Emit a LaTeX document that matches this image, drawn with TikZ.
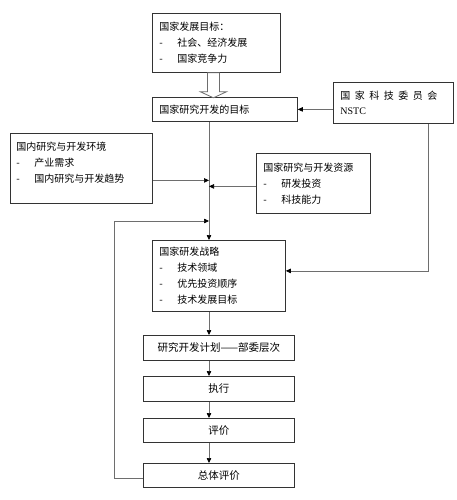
\documentclass[tikz,border=0pt]{standalone}
\usepackage{fontspec}
\setmainfont{Noto Sans CJK SC}
\newfontfamily\romanfont{Liberation Serif}
\usepackage{xcolor}
\usepackage{tikz}
\usetikzlibrary{arrows.meta,calc,positioning}
\definecolor{edgegray}{HTML}{6E6E6E}
\definecolor{boxline}{HTML}{333333}
\newcommand{\dashitem}[1]{\makebox[18pt][l]{-}#1}

\begin{document}
\begin{tikzpicture}[x=1pt,y=-1pt,
  box/.style={draw=boxline,line width=0.8pt,anchor=north west,inner xsep=7pt,inner ysep=0pt,align=left,font=\fontsize{10}{16}\selectfont},
  stage/.style={draw=boxline,line width=0.8pt,anchor=north west,minimum width=151pt,inner sep=0pt,font=\fontsize{10.5}{12}\selectfont},
  flow/.style={draw=edgegray,line width=0.7pt,-{Triangle[length=5pt,width=4.5pt,color=black]}}]
  \useasboundingbox[fill=white] (0,0) rectangle (457,500);
  % boxes
  \node[box,minimum width=128pt,minimum height=59pt,text width=114pt] (natgoal) at (152,13)
    {国家发展目标：\\\dashitem{社会、经济发展}\\\dashitem{国家竞争力}};
  \node[box,minimum width=145pt,minimum height=24pt,text width=131pt] (goal) at (152,97) {国家研究开发的目标};
  \node[box,minimum width=120pt,minimum height=41pt,text width=106pt,font=\fontsize{10}{15}\selectfont] (nstc) at (333,82)
    {国\hspace{4.5pt}家\hspace{4.5pt}科\hspace{4.5pt}技\hspace{4.5pt}委\hspace{4.5pt}员\hspace{4.5pt}会\\{\romanfont NSTC}};
  \node[box,minimum width=142pt,minimum height=70pt,text width=130pt,inner xsep=6pt] (env) at (10,133)
    {国内研究与开发环境\\\dashitem{产业需求}\\\dashitem{国内研究与开发趋势}\\[-4pt]\mbox{}};
  \node[box,minimum width=114pt,minimum height=60pt,text width=100pt] (res) at (256,153)
    {国家研究与开发资源\\\dashitem{研发投资}\\\dashitem{科技能力}};
  \node[box,minimum width=133pt,minimum height=71pt,text width=119pt] (strat) at (152,240)
    {国家研发战略\\\dashitem{技术领域}\\\dashitem{优先投资顺序}\\\dashitem{技术发展目标}};
  \node[stage,minimum height=25pt] (plan) at (143,335) {研究开发计划——部委层次};
  \node[stage,minimum height=25pt] (exec) at (143,376) {执行};
  \node[stage,minimum height=24pt] (eval) at (143,418) {评价};
  \node[stage,minimum height=24pt] (total) at (143,463) {总体评价};
  \coordinate (trunk) at (209,0);
  \coordinate (bend) at (114,221);

  % hollow arrow
  \draw[edgegray,line width=0.8pt,fill=white] ([xshift=-3pt]natgoal.south) ++(-6,0) -- ++(0,19) -- ++(-7,0)
    -- ++(13,6) -- ++(13,-6) -- ++(-7,0) -- ++(0,-19) -- cycle;
  % connectors
  \draw[flow] (goal.south -| trunk) -- (strat.north -| trunk);
  \draw[flow] (nstc.west |- goal.east) -- (goal.east);
  \draw[flow] ([xshift=35pt]nstc.south) |- ([yshift=5pt]strat.east);
  \draw[flow] ([yshift=-12pt]env.east) -- ([yshift=-12pt]env.east -| trunk);
  \draw[flow] ([yshift=-3pt]res.west) -- ([yshift=-3pt]res.west -| trunk);
  \draw[flow] ([yshift=-3pt]total.west) -| (bend) -- (bend -| trunk);
  \draw[flow] (strat.south -| trunk) -- (plan.north -| trunk);
  \draw[flow] (plan.south -| trunk) -- (exec.north -| trunk);
  \draw[flow] (exec.south -| trunk) -- (eval.north -| trunk);
  \draw[flow] (eval.south -| trunk) -- (total.north -| trunk);
\end{tikzpicture}
\end{document}
